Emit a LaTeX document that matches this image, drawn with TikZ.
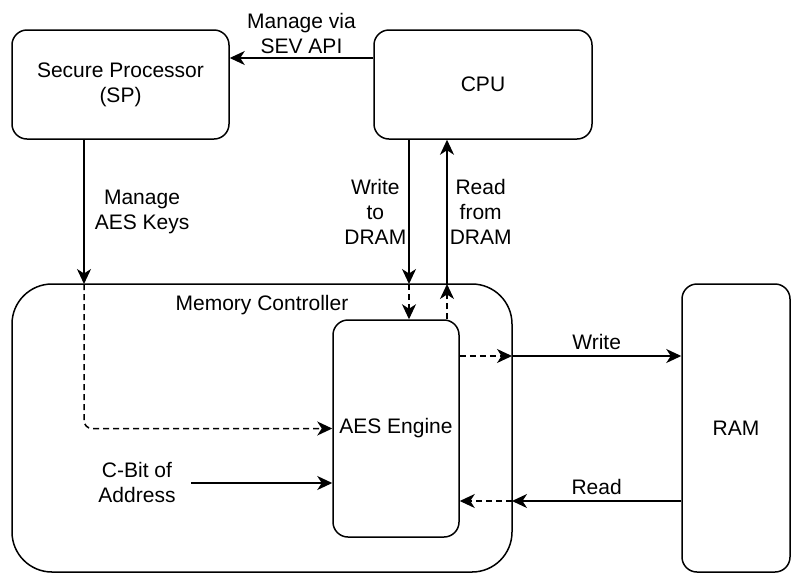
\documentclass[tikz,border=0pt]{standalone}
\usepackage{fontspec}
\setmainfont{Liberation Sans}
\usetikzlibrary{arrows.meta}
\begin{document}
\begin{tikzpicture}[x=1pt,y=-1pt,
  every node/.style={font=\fontsize{21}{25}\selectfont, align=center},
  box/.style={draw, line width=1.5pt, rounded corners=15pt, inner sep=0pt},
  arr/.style={line width=1.5pt, -{Stealth[length=15pt,width=14pt,inset=4.5pt]}},
  dsh/.style={dash pattern=on 6pt off 4pt}
]
\useasboundingbox (0,0) rectangle (800,574);
% nodes
\node[box, minimum width=217pt, minimum height=109pt] (sp) at (120.5,84.5) {Secure Processor\\(SP)};
\node[box, minimum width=218pt, minimum height=109pt] (cpu) at (483,84.5) {CPU};
\node[box, rounded corners=40pt, minimum width=500pt, minimum height=288pt] (mc) at (262,428) {};
\node (mctext) at (262,305) {Memory Controller};
\node[box, minimum width=126pt, minimum height=217pt] (aes) at (396,428.5) {AES Engine};
\node[box, minimum width=108pt, minimum height=288pt] (ram) at (736,428) {RAM};
\node (cbit) at (137,482) {C-Bit of\\Address};
% coordinates on the memory controller border
\coordinate (k1) at (84,284);
\coordinate (k2) at (409,284);
\coordinate (k3) at (447,284);
\coordinate (k4) at (512,356);
\coordinate (k5) at (512,501);
\coordinate (sevy) at (300,58);
\coordinate (cby) at (300,483);
% connectors
\draw[arr] (cpu.west |- sevy) -- (sp.east |- sevy)
  node[midway, above, inner sep=4pt] {Manage via\\SEV API};
\draw[arr] (sp.south -| k1) -- (k1)
  node[midway, right, inner sep=0pt, xshift=10pt] {Manage\\AES Keys};
\draw[arr, dsh, rounded corners=8pt] (k1) |- (aes.west);
\draw[arr] (cpu.south -| k2) -- (k2)
  node[midway, left, inner sep=2pt] {Write\\to\\DRAM};
\draw[arr, dsh] (k2) -- (aes.north -| k2);
\draw[arr, dsh] (aes.north -| k3) -- (k3);
\draw[arr] (k3) -- (cpu.south -| k3)
  node[midway, right, inner sep=2pt] {Read\\from\\DRAM};
\draw[arr, dsh] (aes.east |- k4) -- (k4);
\draw[arr] (k4) -- (ram.west |- k4)
  node[midway, above, inner sep=6pt] {Write};
\draw[arr] (ram.west |- k5) -- (k5)
  node[midway, above, inner sep=6pt] {Read};
\draw[arr, dsh] (k5) -- (aes.east |- k5);
\draw[arr] ([xshift=12pt]cbit.east |- cby) -- (aes.west |- cby);
\end{tikzpicture}
\end{document}
